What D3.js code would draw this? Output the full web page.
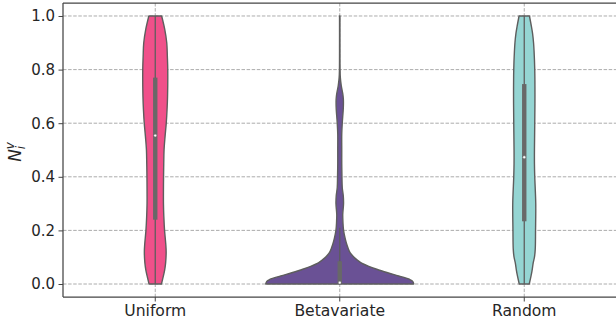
<!DOCTYPE html>
<html>
<head>
<meta charset="utf-8">
<script src="https://cdn.jsdelivr.net/npm/d3@7"></script>
<style>
  html, body { margin: 0; padding: 0; background: #fff; }
  svg { display: block; font-family: "DejaVu Sans", sans-serif; }
</style>
</head>
<body>
<svg id="chart" width="616" height="326"></svg>
<script>
// Categories and tick labels
const categories = ["Uniform", "Betavariate", "Random"];
const yTicks = [0.0, 0.2, 0.4, 0.6, 0.8, 1.0];

// Kernel density profiles: value levels and estimated density at each level
const uniformLevels  = [0.0, 0.02, 0.05, 0.08, 0.12, 0.15, 0.2, 0.25, 0.3, 0.4, 0.45, 0.5, 0.55, 0.6, 0.65, 0.7, 0.8, 0.85, 0.9, 0.95, 1.0];
const uniformDensity = [0.62, 0.75, 0.93, 1.04, 1.09, 1.05, 0.93, 0.86, 0.82, 0.83, 0.85, 0.88, 0.98, 1.10, 1.18, 1.23, 1.25, 1.21, 1.15, 0.95, 0.64];

const betaLevels  = [0.0, 0.01, 0.017, 0.03, 0.042, 0.055, 0.066, 0.08, 0.091, 0.103, 0.116, 0.135, 0.153, 0.17, 0.2, 0.23, 0.26, 0.3, 0.33, 0.36, 0.4, 0.45, 0.5, 0.56, 0.6, 0.66, 0.69, 0.71, 0.74, 0.77, 0.8, 0.9, 1.0];
const betaDensity = [7.4, 7.3, 7.0, 5.9, 4.8, 3.7, 2.9, 2.1, 1.7, 1.35, 1.05, 0.82, 0.66, 0.54, 0.38, 0.32, 0.30, 0.38, 0.35, 0.25, 0.22, 0.20, 0.20, 0.20, 0.25, 0.36, 0.36, 0.30, 0.15, 0.06, 0.03, 0.02, 0.02];

const randomLevels  = [0.0, 0.03, 0.05, 0.08, 0.1, 0.13, 0.2, 0.3, 0.4, 0.45, 0.5, 0.6, 0.7, 0.8, 0.87, 0.9, 0.935, 0.96, 1.0];
const randomDensity = [0.50, 0.68, 0.78, 0.90, 1.02, 1.10, 1.13, 1.15, 1.05, 1.02, 1.02, 1.05, 1.07, 1.05, 0.98, 0.93, 0.83, 0.72, 0.52];

// Box summary per category
const q1s       = [0.24, 0.002, 0.234];
const medians   = [0.554, 0.005, 0.473];
const q3s       = [0.77, 0.085, 0.746];
const whiskerLo = [0.0, 0.0, 0.0];
const whiskerHi = [1.0, 0.21, 1.0];

const fills = ["#f0508a", "#6a5195", "#95d5d3"];

const profiles = [
  uniformLevels.map((v, i) => ({ v, d: uniformDensity[i] })),
  betaLevels.map((v, i) => ({ v, d: betaDensity[i] })),
  randomLevels.map((v, i) => ({ v, d: randomDensity[i] }))
];

const svg = d3.select("#chart");
const margin = { left: 63, right: 0, top: 3, bottom: 29 };
const W = 616, H = 326;
const plotRight = 616.5;
const plotBottom = H - margin.bottom;

const x = d3.scaleBand().domain(categories).range([margin.left, plotRight]).paddingInner(0).paddingOuter(0);
const y = d3.scaleLinear().domain([-0.0485, 1.0485]).range([plotBottom, margin.top]);
const halfWidth = d3.scaleLinear().domain([0, 1]).range([0, 10]);

const gridColor = "#a3a3a3";
const edgeGray = "#5e5e5e";
const textColor = "#262626";

// Grid
const grid = svg.append("g");
grid.selectAll("line.h").data(yTicks).join("line")
  .attr("x1", margin.left).attr("x2", W)
  .attr("y1", d => y(d)).attr("y2", d => y(d))
  .attr("stroke", gridColor).attr("stroke-width", 0.9).attr("stroke-dasharray", "3.5,1.6");
grid.selectAll("line.v").data(categories).join("line")
  .attr("x1", d => x(d) + x.bandwidth() / 2).attr("x2", d => x(d) + x.bandwidth() / 2)
  .attr("y1", margin.top).attr("y2", plotBottom)
  .attr("stroke", gridColor).attr("stroke-width", 0.9).attr("stroke-dasharray", "3.5,1.6");

// Violins
const violins = svg.append("g");
categories.forEach((c, i) => {
  const cx = x(c) + x.bandwidth() / 2;
  const area = d3.area()
    .y(d => y(d.v))
    .x0(d => cx - halfWidth(d.d))
    .x1(d => cx + halfWidth(d.d))
    .curve(d3.curveCatmullRom.alpha(0.5));
  violins.append("path")
    .datum(profiles[i])
    .attr("d", area)
    .attr("fill", fills[i])
    .attr("stroke", edgeGray)
    .attr("stroke-width", 1.4)
    .attr("stroke-linejoin", "round");

  // whisker
  violins.append("line")
    .attr("x1", cx).attr("x2", cx)
    .attr("y1", y(whiskerLo[i])).attr("y2", y(whiskerHi[i]))
    .attr("stroke", edgeGray).attr("stroke-width", 1.3);
  // box
  violins.append("rect")
    .attr("x", cx - 2.2).attr("width", 4.4)
    .attr("y", y(q3s[i])).attr("height", y(q1s[i]) - y(q3s[i]))
    .attr("fill", "#686868");
  // median
  violins.append("circle")
    .attr("cx", cx).attr("cy", y(medians[i])).attr("r", 1.4)
    .attr("fill", "#fff").attr("stroke", "#686868").attr("stroke-width", 0.4);
});

// Axes
const yAxis = d3.axisLeft(y).tickValues(yTicks).tickFormat(d3.format(".1f")).tickSize(4.5).tickPadding(3.5);
const gy = svg.append("g").attr("transform", `translate(${margin.left},0)`).call(yAxis);
const xAxis = d3.axisBottom(x).tickSize(4.5).tickPadding(3.5);
const gx = svg.append("g").attr("transform", `translate(0,${plotBottom})`).call(xAxis);
[gx, gy].forEach(g => {
  g.select(".domain").remove();
  g.selectAll(".tick line").attr("stroke", "#444").attr("stroke-width", 1);
  g.selectAll(".tick text").attr("fill", textColor).attr("font-family", "DejaVu Sans, sans-serif");
});
gy.selectAll(".tick text").attr("font-size", "15px");
gx.selectAll(".tick text").attr("font-size", "15.6px");

// Spines
const spines = svg.append("g").attr("stroke", "#444").attr("stroke-width", 1.25).attr("fill", "none");
spines.append("line").attr("x1", margin.left).attr("x2", margin.left).attr("y1", margin.top).attr("y2", plotBottom);
spines.append("line").attr("x1", margin.left).attr("x2", W).attr("y1", margin.top).attr("y2", margin.top);
spines.append("line").attr("x1", margin.left).attr("x2", W).attr("y1", plotBottom).attr("y2", plotBottom);

// Y label: N with subscript i and superscript v
const ylab = svg.append("text")
  .attr("transform", `translate(21,${y(0.5) + 2}) rotate(-90)`)
  .attr("text-anchor", "middle")
  .attr("fill", textColor)
  .attr("font-family", "DejaVu Sans, sans-serif")
  .attr("font-size", "17px")
  .attr("font-style", "italic");
ylab.append("tspan").text("N");
ylab.append("tspan").attr("font-size", "12px").attr("dy", 4).text("i");
ylab.append("tspan").attr("font-size", "12px").attr("dx", -3.5).attr("dy", -11).text("v");
</script>
</body>
</html>
